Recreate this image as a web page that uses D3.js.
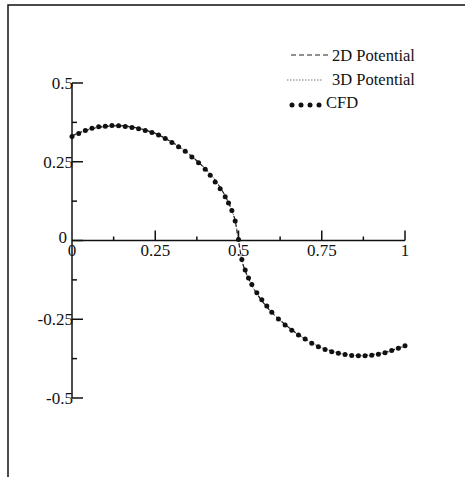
<!DOCTYPE html>
<html lang="en">
<head>
<meta charset="UTF-8">
<title>Potential vs CFD</title>
<script src="https://d3js.org/d3.v7.min.js"></script>
<style>
  body { margin: 0; background: #fff; }
  svg text { font-family: "Liberation Serif", "DejaVu Serif", serif; fill: #111; }
  .tick-label { font-size: 17px; }
  .legend text { font-size: 16.5px; }
</style>
</head>
<body>
<script>
// data
const xs2d   = [0, 0.025, 0.05, 0.075, 0.1, 0.125, 0.15, 0.175, 0.2, 0.225, 0.25, 0.275, 0.3, 0.325, 0.35, 0.375, 0.4, 0.425, 0.45, 0.46, 0.47, 0.48, 0.49, 0.5,
                0.51, 0.52, 0.53, 0.54, 0.55, 0.575, 0.6, 0.625, 0.65, 0.675, 0.7, 0.725, 0.75, 0.775, 0.8, 0.825, 0.85, 0.875, 0.9, 0.925, 0.95, 0.975, 1];
const pot2d  = [0.332, 0.343, 0.352, 0.358, 0.362, 0.364, 0.364, 0.361, 0.356, 0.349, 0.340, 0.327, 0.312, 0.295, 0.275, 0.253, 0.228, 0.198, 0.160, 0.142, 0.120, 0.095, 0.062, 0.0,
                -0.062, -0.095, -0.120, -0.142, -0.160, -0.198, -0.228, -0.253, -0.275, -0.295, -0.312, -0.327, -0.340, -0.349, -0.356, -0.361, -0.364, -0.364, -0.362, -0.358, -0.352, -0.343, -0.334];
const pot3d  = [0.334, 0.345, 0.354, 0.360, 0.364, 0.366, 0.365, 0.362, 0.357, 0.350, 0.341, 0.328, 0.313, 0.296, 0.276, 0.254, 0.229, 0.199, 0.161, 0.143, 0.121, 0.096, 0.063, 0.0,
                -0.063, -0.096, -0.121, -0.143, -0.161, -0.199, -0.229, -0.254, -0.276, -0.296, -0.313, -0.328, -0.341, -0.350, -0.357, -0.362, -0.365, -0.366, -0.364, -0.360, -0.354, -0.345, -0.336];
const xsCfd  = [0, 0.02, 0.04, 0.06, 0.08, 0.1, 0.12, 0.14, 0.16, 0.18, 0.2, 0.22, 0.24, 0.26, 0.28, 0.3, 0.32, 0.34, 0.36, 0.38, 0.4, 0.415, 0.43, 0.445, 0.46, 0.47, 0.48, 0.49, 0.5,
                0.51, 0.52, 0.53, 0.54, 0.555, 0.57, 0.585, 0.6, 0.62, 0.64, 0.66, 0.68, 0.7, 0.72, 0.74, 0.76, 0.78, 0.8, 0.82, 0.84, 0.86, 0.88, 0.9, 0.92, 0.94, 0.96, 0.98, 1];
const cfd    = [0.330, 0.340, 0.349, 0.356, 0.361, 0.363, 0.365, 0.364, 0.362, 0.359, 0.355, 0.349, 0.343, 0.335, 0.324, 0.311, 0.298, 0.283, 0.265, 0.247, 0.226, 0.207, 0.186, 0.164, 0.139, 0.119, 0.095, 0.062, 0.003,
                -0.060, -0.094, -0.119, -0.140, -0.166, -0.188, -0.208, -0.228, -0.249, -0.268, -0.285, -0.300, -0.313, -0.326, -0.337, -0.346, -0.353, -0.358, -0.362, -0.365, -0.366, -0.366, -0.364, -0.361, -0.356, -0.349, -0.342, -0.334];

const xTicks = [0, 0.25, 0.5, 0.75, 1];
const xTickLabels = ["0", "0.25", "0.5", "0.75", "1"];
const xMinor = [0.125, 0.375, 0.625, 0.875];
const yTicks = [0.5, 0.25, 0, -0.25, -0.5];
const yTickLabels = ["0.5", "0.25", "0", "-0.25", "-0.5"];
const yMinor = [0.375, 0.125, -0.125, -0.375];

const width = 465, height = 477;

const svg = d3.select("body").append("svg")
  .attr("width", width)
  .attr("height", height);

// page frame (top and left edges only, like the scan)
svg.append("path")
  .attr("d", "M8,477 L8,5 L465,5")
  .attr("fill", "none")
  .attr("stroke", "#111")
  .attr("stroke-width", 1.5);

const x = d3.scaleLinear().domain([0, 1]).range([72, 405]);
const y = d3.scaleLinear().domain([-0.5, 0.5]).range([398, 83]);

// axes through the origin
const axes = svg.append("g").attr("stroke", "#111").attr("stroke-width", 1.5);
axes.append("line")
  .attr("x1", x(0)).attr("x2", x(0))
  .attr("y1", y(0.5)).attr("y2", y(-0.5));
axes.append("line")
  .attr("x1", x(0)).attr("x2", x(1))
  .attr("y1", y(0)).attr("y2", y(0));

// y ticks point right
axes.selectAll(".ymaj").data(yTicks).enter().append("line")
  .attr("x1", x(0)).attr("x2", x(0) + 11)
  .attr("y1", d => y(d)).attr("y2", d => y(d));
axes.selectAll(".ymin").data(yMinor).enter().append("line")
  .attr("x1", x(0)).attr("x2", x(0) + 5)
  .attr("y1", d => y(d)).attr("y2", d => y(d));

// x ticks point up
axes.selectAll(".xmaj").data(xTicks.slice(1)).enter().append("line")
  .attr("x1", d => x(d)).attr("x2", d => x(d))
  .attr("y1", y(0)).attr("y2", y(0) - 10);
axes.selectAll(".xmin").data(xMinor).enter().append("line")
  .attr("x1", d => x(d)).attr("x2", d => x(d))
  .attr("y1", y(0)).attr("y2", y(0) - 4);

svg.selectAll(".ylab").data(yTicks).enter().append("text")
  .attr("class", "tick-label")
  .attr("x", d => d === 0 ? x(0) - 5 : x(0) + 1)
  .attr("y", d => d === 0 ? y(d) + 2 : y(d) + 6)
  .attr("text-anchor", "end")
  .text((d, i) => yTickLabels[i]);

svg.selectAll(".xlab").data(xTicks).enter().append("text")
  .attr("class", "tick-label")
  .attr("x", d => x(d))
  .attr("y", y(0) + 15)
  .attr("text-anchor", "middle")
  .text((d, i) => xTickLabels[i]);

// curves
const line = d3.line()
  .x(d => x(d[0]))
  .y(d => y(d[1]))
  .curve(d3.curveMonotoneX);

svg.append("path")
  .datum(xs2d.map((v, i) => [v, pot3d[i]]))
  .attr("d", line)
  .attr("fill", "none")
  .attr("stroke", "#777")
  .attr("stroke-width", 1)
  .attr("stroke-dasharray", "1.5,1.5");

svg.append("path")
  .datum(xs2d.map((v, i) => [v, pot2d[i]]))
  .attr("d", line)
  .attr("fill", "none")
  .attr("stroke", "#222")
  .attr("stroke-width", 1.2)
  .attr("stroke-dasharray", "4,3");

svg.append("g").selectAll("circle")
  .data(xsCfd.map((v, i) => [v, cfd[i]]))
  .enter().append("circle")
  .attr("cx", d => x(d[0]))
  .attr("cy", d => y(d[1]))
  .attr("r", 2.5)
  .attr("fill", "#111");

// legend
const legend = svg.append("g").attr("class", "legend");
legend.append("line")
  .attr("x1", 291).attr("x2", 328).attr("y1", 55).attr("y2", 55)
  .attr("stroke", "#222").attr("stroke-width", 1.2)
  .attr("stroke-dasharray", "5,3");
legend.append("text").attr("x", 332).attr("y", 61).text("2D Potential");

legend.append("line")
  .attr("x1", 287).attr("x2", 322).attr("y1", 80).attr("y2", 80)
  .attr("stroke", "#777").attr("stroke-width", 1)
  .attr("stroke-dasharray", "1.5,1.5");
legend.append("text").attr("x", 332).attr("y", 85).text("3D Potential");

legend.selectAll("circle").data([0, 1, 2, 3]).enter().append("circle")
  .attr("cx", d => 292 + d * 9)
  .attr("cy", 105)
  .attr("r", 2.5)
  .attr("fill", "#111");
legend.append("text").attr("x", 326).attr("y", 108).text("CFD");
</script>
</body>
</html>
